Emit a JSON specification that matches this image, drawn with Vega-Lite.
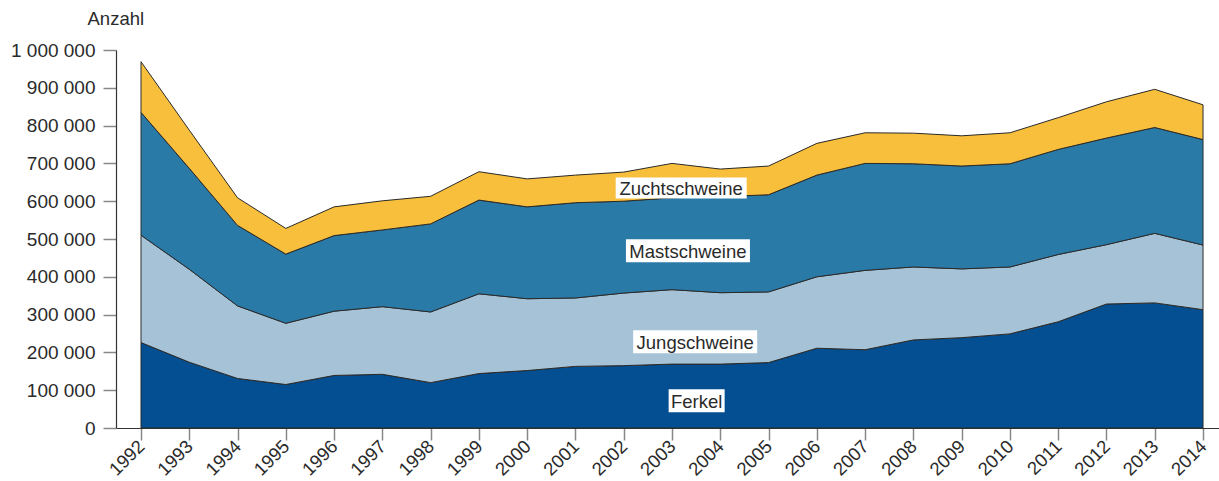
{
  "$schema": "https://vega.github.io/schema/vega-lite/v6.json",
  "autosize": "none",
  "width": 1103,
  "height": 378,
  "padding": {"left": 116, "top": 50, "right": 0, "bottom": 53},
  "background": "white",
  "config": {
    "view": {"stroke": null},
    "font": "Liberation Sans",
    "locale": {"number": {"decimal": ",", "thousands": " ", "grouping": [3], "currency": ["", " €"]}}
  },
  "datasets": {
    "schweine": [
      {"jahr": 1992, "art": "Ferkel", "ord": 1, "anzahl": 226000},
      {"jahr": 1992, "art": "Jungschweine", "ord": 2, "anzahl": 284000},
      {"jahr": 1992, "art": "Mastschweine", "ord": 3, "anzahl": 325000},
      {"jahr": 1992, "art": "Zuchtschweine", "ord": 4, "anzahl": 134000},
      {"jahr": 1993, "art": "Ferkel", "ord": 1, "anzahl": 174000},
      {"jahr": 1993, "art": "Jungschweine", "ord": 2, "anzahl": 246000},
      {"jahr": 1993, "art": "Mastschweine", "ord": 3, "anzahl": 267000},
      {"jahr": 1993, "art": "Zuchtschweine", "ord": 4, "anzahl": 101000},
      {"jahr": 1994, "art": "Ferkel", "ord": 1, "anzahl": 131000},
      {"jahr": 1994, "art": "Jungschweine", "ord": 2, "anzahl": 192000},
      {"jahr": 1994, "art": "Mastschweine", "ord": 3, "anzahl": 213000},
      {"jahr": 1994, "art": "Zuchtschweine", "ord": 4, "anzahl": 73000},
      {"jahr": 1995, "art": "Ferkel", "ord": 1, "anzahl": 115000},
      {"jahr": 1995, "art": "Jungschweine", "ord": 2, "anzahl": 162000},
      {"jahr": 1995, "art": "Mastschweine", "ord": 3, "anzahl": 183000},
      {"jahr": 1995, "art": "Zuchtschweine", "ord": 4, "anzahl": 68000},
      {"jahr": 1996, "art": "Ferkel", "ord": 1, "anzahl": 139000},
      {"jahr": 1996, "art": "Jungschweine", "ord": 2, "anzahl": 170000},
      {"jahr": 1996, "art": "Mastschweine", "ord": 3, "anzahl": 200000},
      {"jahr": 1996, "art": "Zuchtschweine", "ord": 4, "anzahl": 76000},
      {"jahr": 1997, "art": "Ferkel", "ord": 1, "anzahl": 142000},
      {"jahr": 1997, "art": "Jungschweine", "ord": 2, "anzahl": 179000},
      {"jahr": 1997, "art": "Mastschweine", "ord": 3, "anzahl": 203000},
      {"jahr": 1997, "art": "Zuchtschweine", "ord": 4, "anzahl": 77000},
      {"jahr": 1998, "art": "Ferkel", "ord": 1, "anzahl": 120000},
      {"jahr": 1998, "art": "Jungschweine", "ord": 2, "anzahl": 187000},
      {"jahr": 1998, "art": "Mastschweine", "ord": 3, "anzahl": 233000},
      {"jahr": 1998, "art": "Zuchtschweine", "ord": 4, "anzahl": 73000},
      {"jahr": 1999, "art": "Ferkel", "ord": 1, "anzahl": 144000},
      {"jahr": 1999, "art": "Jungschweine", "ord": 2, "anzahl": 211000},
      {"jahr": 1999, "art": "Mastschweine", "ord": 3, "anzahl": 248000},
      {"jahr": 1999, "art": "Zuchtschweine", "ord": 4, "anzahl": 75000},
      {"jahr": 2000, "art": "Ferkel", "ord": 1, "anzahl": 152000},
      {"jahr": 2000, "art": "Jungschweine", "ord": 2, "anzahl": 190000},
      {"jahr": 2000, "art": "Mastschweine", "ord": 3, "anzahl": 243000},
      {"jahr": 2000, "art": "Zuchtschweine", "ord": 4, "anzahl": 74000},
      {"jahr": 2001, "art": "Ferkel", "ord": 1, "anzahl": 163000},
      {"jahr": 2001, "art": "Jungschweine", "ord": 2, "anzahl": 181000},
      {"jahr": 2001, "art": "Mastschweine", "ord": 3, "anzahl": 252000},
      {"jahr": 2001, "art": "Zuchtschweine", "ord": 4, "anzahl": 73000},
      {"jahr": 2002, "art": "Ferkel", "ord": 1, "anzahl": 165000},
      {"jahr": 2002, "art": "Jungschweine", "ord": 2, "anzahl": 192000},
      {"jahr": 2002, "art": "Mastschweine", "ord": 3, "anzahl": 243000},
      {"jahr": 2002, "art": "Zuchtschweine", "ord": 4, "anzahl": 77000},
      {"jahr": 2003, "art": "Ferkel", "ord": 1, "anzahl": 169000},
      {"jahr": 2003, "art": "Jungschweine", "ord": 2, "anzahl": 197000},
      {"jahr": 2003, "art": "Mastschweine", "ord": 3, "anzahl": 243000},
      {"jahr": 2003, "art": "Zuchtschweine", "ord": 4, "anzahl": 91000},
      {"jahr": 2004, "art": "Ferkel", "ord": 1, "anzahl": 169000},
      {"jahr": 2004, "art": "Jungschweine", "ord": 2, "anzahl": 189000},
      {"jahr": 2004, "art": "Mastschweine", "ord": 3, "anzahl": 254000},
      {"jahr": 2004, "art": "Zuchtschweine", "ord": 4, "anzahl": 73000},
      {"jahr": 2005, "art": "Ferkel", "ord": 1, "anzahl": 173000},
      {"jahr": 2005, "art": "Jungschweine", "ord": 2, "anzahl": 187000},
      {"jahr": 2005, "art": "Mastschweine", "ord": 3, "anzahl": 257000},
      {"jahr": 2005, "art": "Zuchtschweine", "ord": 4, "anzahl": 76000},
      {"jahr": 2006, "art": "Ferkel", "ord": 1, "anzahl": 211000},
      {"jahr": 2006, "art": "Jungschweine", "ord": 2, "anzahl": 189000},
      {"jahr": 2006, "art": "Mastschweine", "ord": 3, "anzahl": 269000},
      {"jahr": 2006, "art": "Zuchtschweine", "ord": 4, "anzahl": 84000},
      {"jahr": 2007, "art": "Ferkel", "ord": 1, "anzahl": 207000},
      {"jahr": 2007, "art": "Jungschweine", "ord": 2, "anzahl": 210000},
      {"jahr": 2007, "art": "Mastschweine", "ord": 3, "anzahl": 283000},
      {"jahr": 2007, "art": "Zuchtschweine", "ord": 4, "anzahl": 81000},
      {"jahr": 2008, "art": "Ferkel", "ord": 1, "anzahl": 233000},
      {"jahr": 2008, "art": "Jungschweine", "ord": 2, "anzahl": 193000},
      {"jahr": 2008, "art": "Mastschweine", "ord": 3, "anzahl": 273000},
      {"jahr": 2008, "art": "Zuchtschweine", "ord": 4, "anzahl": 81000},
      {"jahr": 2009, "art": "Ferkel", "ord": 1, "anzahl": 239000},
      {"jahr": 2009, "art": "Jungschweine", "ord": 2, "anzahl": 182000},
      {"jahr": 2009, "art": "Mastschweine", "ord": 3, "anzahl": 272000},
      {"jahr": 2009, "art": "Zuchtschweine", "ord": 4, "anzahl": 80000},
      {"jahr": 2010, "art": "Ferkel", "ord": 1, "anzahl": 249000},
      {"jahr": 2010, "art": "Jungschweine", "ord": 2, "anzahl": 177000},
      {"jahr": 2010, "art": "Mastschweine", "ord": 3, "anzahl": 273000},
      {"jahr": 2010, "art": "Zuchtschweine", "ord": 4, "anzahl": 82000},
      {"jahr": 2011, "art": "Ferkel", "ord": 1, "anzahl": 281000},
      {"jahr": 2011, "art": "Jungschweine", "ord": 2, "anzahl": 178000},
      {"jahr": 2011, "art": "Mastschweine", "ord": 3, "anzahl": 278000},
      {"jahr": 2011, "art": "Zuchtschweine", "ord": 4, "anzahl": 84000},
      {"jahr": 2012, "art": "Ferkel", "ord": 1, "anzahl": 328000},
      {"jahr": 2012, "art": "Jungschweine", "ord": 2, "anzahl": 157000},
      {"jahr": 2012, "art": "Mastschweine", "ord": 3, "anzahl": 282000},
      {"jahr": 2012, "art": "Zuchtschweine", "ord": 4, "anzahl": 96000},
      {"jahr": 2013, "art": "Ferkel", "ord": 1, "anzahl": 331000},
      {"jahr": 2013, "art": "Jungschweine", "ord": 2, "anzahl": 184000},
      {"jahr": 2013, "art": "Mastschweine", "ord": 3, "anzahl": 280000},
      {"jahr": 2013, "art": "Zuchtschweine", "ord": 4, "anzahl": 101000},
      {"jahr": 2014, "art": "Ferkel", "ord": 1, "anzahl": 313000},
      {"jahr": 2014, "art": "Jungschweine", "ord": 2, "anzahl": 171000},
      {"jahr": 2014, "art": "Mastschweine", "ord": 3, "anzahl": 279000},
      {"jahr": 2014, "art": "Zuchtschweine", "ord": 4, "anzahl": 92000}
    ],
    "beschriftung": [
      {"label": "Zuchtschweine", "jahr": 2003.19, "anzahl": 635000},
      {"label": "Mastschweine", "jahr": 2003.33, "anzahl": 469000},
      {"label": "Jungschweine", "jahr": 2003.48, "anzahl": 228000},
      {"label": "Ferkel", "jahr": 2003.51, "anzahl": 72000}
    ]
  },
  "layer": [
    {
      "data": {"name": "schweine"},
      "mark": {"type": "area", "stroke": "#2a2a2a", "strokeWidth": 1, "strokeJoin": "round"},
      "encoding": {
        "x": {
          "field": "jahr", "type": "quantitative",
          "scale": {"domain": [1991.482, 2014.331], "nice": false, "zero": false},
          "axis": {
            "values": [1992,1993,1994,1995,1996,1997,1998,1999,2000,2001,2002,2003,2004,2005,2006,2007,2008,2009,2010,2011,2012,2013,2014],
            "format": "d", "title": null, "grid": false, "labelOverlap": false,
            "domainColor": "#333333", "domainWidth": 1.2,
            "tickColor": "#888888", "tickSize": 12, "tickWidth": 1.5,
            "labelAngle": -45, "labelAlign": "right", "labelBaseline": "middle",
            "labelFontSize": 18.5, "labelColor": "#2a2a2a", "labelPadding": 3, "labelFont": "Liberation Sans"
          }
        },
        "y": {
          "field": "anzahl", "type": "quantitative", "stack": "zero",
          "scale": {"domain": [0, 1000000], "nice": false},
          "axis": {
            "values": [0,100000,200000,300000,400000,500000,600000,700000,800000,900000,1000000],
            "format": ",d", "grid": false, "labelOverlap": false, "tickCount": 11,
            "title": "Anzahl", "titleAngle": 0, "titleAlign": "left", "titleBaseline": "alphabetic",
            "titleX": -29, "titleY": -26, "titleFontSize": 18.5, "titleFontWeight": "normal",
            "titleColor": "#2a2a2a", "titleFont": "Liberation Sans",
            "domainColor": "#333333", "domainWidth": 1.2,
            "tickColor": "#888888", "tickSize": 13, "tickWidth": 1.5,
            "labelFontSize": 19, "labelColor": "#2a2a2a", "labelPadding": 8, "labelFont": "Liberation Sans"
          }
        },
        "color": {
          "field": "art", "type": "nominal", "legend": null,
          "scale": {
            "domain": ["Ferkel", "Jungschweine", "Mastschweine", "Zuchtschweine"],
            "range": ["#034f91", "#a5c2d6", "#2a7aa8", "#f7bf3c"]
          }
        },
        "order": {"field": "ord", "type": "quantitative", "sort": "ascending"}
      }
    },
    {
      "data": {"name": "beschriftung"},
      "mark": {
        "type": "rect", "color": "white",
        "width": {"expr": "datum.label == 'Ferkel' ? 56 : (datum.label == 'Zuchtschweine' ? 131 : 124)"},
        "height": {"expr": "datum.label == 'Zuchtschweine' ? 21 : 23"}
      },
      "encoding": {
        "x": {"field": "jahr", "type": "quantitative"},
        "y": {"field": "anzahl", "type": "quantitative", "stack": null}
      }
    },
    {
      "data": {"name": "beschriftung"},
      "mark": {"type": "text", "fontSize": 18.5, "color": "#2a2a2a", "font": "Liberation Sans", "align": "center", "baseline": "middle", "dy": 1},
      "encoding": {
        "x": {"field": "jahr", "type": "quantitative"},
        "y": {"field": "anzahl", "type": "quantitative", "stack": null},
        "text": {"field": "label"}
      }
    }
  ]
}
